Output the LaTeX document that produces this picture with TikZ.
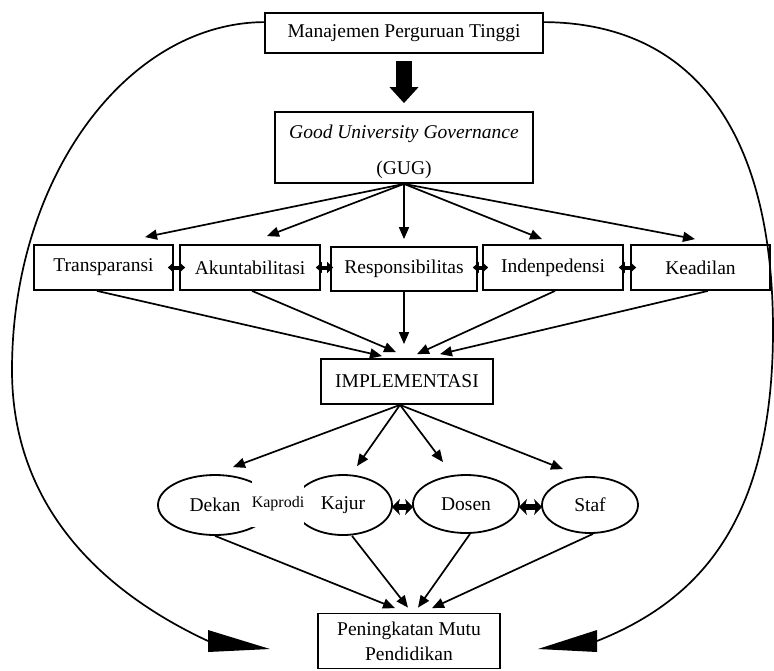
\documentclass[tikz,border=0pt]{standalone}
\usepackage{fontspec}
\setmainfont{Liberation Serif}
\usetikzlibrary{arrows.meta,calc,shapes.geometric}
\begin{document}
\begin{tikzpicture}[x=1pt,y=-1pt,
  every node/.style={font=\fontsize{19.5}{23}\selectfont},
  box/.style={draw,line width=1.8pt,inner sep=0pt,rectangle},
  ell/.style={draw,line width=1.8pt,ellipse,inner sep=0pt},
  arr/.style={line width=1.7pt,-{Triangle[length=12pt,width=10pt]}},
  dbl/.style={line width=4pt,{Triangle[length=6pt,width=11pt]}-{Triangle[length=6pt,width=11pt]}},
  dblb/.style={line width=6pt,{Stealth[length=8pt,width=16pt,inset=2pt]}-{Stealth[length=8pt,width=16pt,inset=2pt]}},
  curve/.style={line width=1.7pt}
]
\useasboundingbox (0,0) rectangle (774,670);

% boxes
\node[box,minimum width=278pt,minimum height=40pt] (top) at (404,33) {Manajemen Perguruan Tinggi};
\node[box,minimum width=258pt,minimum height=71pt,align=center] (gug) at (404,147.5) {\mbox{}\\\textit{Good University Governance}\\[13pt](GUG)};
\node[box,minimum width=139pt,minimum height=45pt] (t1) at (103.5,267.5) {Transparansi};
\node[box,minimum width=140pt,minimum height=45pt] (t2) at (250,267.5) {Akuntabilitasi};
\node[box,minimum width=146pt,minimum height=44pt] (t3) at (404,269) {Responsibilitas};
\node[box,minimum width=140pt,minimum height=45pt] (t4) at (553,267.5) {Indenpedensi};
\node[box,minimum width=139pt,minimum height=45pt] (t5) at (700.5,267.5) {Keadilan};
\node[box,minimum width=172pt,minimum height=45pt] (impl) at (407,381.5) {IMPLEMENTASI};

% ellipses
\node[ell,minimum width=114pt,minimum height=60pt] (dek) at (215,505) {Dekan};
\node[ell,minimum width=98pt,minimum height=60pt] (kaj) at (343,505) {Kajur};
\node[ell,minimum width=106pt,minimum height=58pt] (dos) at (466,504) {Dosen};
\node[ell,minimum width=96pt,minimum height=56pt] (sta) at (590,505) {Staf};
\node[fill=white,inner sep=0pt,minimum width=46pt,minimum height=46pt,font=\fontsize{16}{19}\selectfont] (kap) at (278,504) {Kaprodi};

\node[box,minimum width=182pt,minimum height=55pt,align=center] (pm) at (409,641) {Peningkatan Mutu\\[2pt]Pendidikan};

% bold arrow
\draw[line width=16pt,-{Triangle[length=16pt,width=28pt]}] ($(top.south)+(0,7)$) -- ($(gug.north)+(0,-8)$);

% fan from GUG
\draw[arr] (gug.south) -- ($(t1.north)+(41.5,-7)$);
\draw[arr] (gug.south) -- ($(t2.north)+(17,-8)$);
\draw[arr] (gug.south) -- ($(t3.north)+(0,-7)$);
\draw[arr] (gug.south) -- ($(t4.north)+(-11,-5)$);
\draw[arr] (gug.south) -- ($(t5.north)+(-5.5,-5)$);

% double arrows between boxes
\draw[dbl,shorten <=-6pt,shorten >=-6pt] (t1.east) -- (t2.west);
\draw[dbl,shorten <=-5pt,shorten >=-3pt] (t2.east) -- (t2.east -| t3.west);
\draw[dbl,shorten <=-5pt,shorten >=-6pt] (t4.west -| t3.east) -- (t4.west);
\draw[dbl,shorten <=-5pt,shorten >=-6pt] (t4.east) -- (t5.west);

% boxes to implementasi
\draw[arr] ($(t1.south)+(-6.5,0)$) -- ($(impl.north)+(-25,-2)$);
\draw[arr] ($(t2.south)+(2,0)$) -- ($(impl.north)+(-11,-6)$);
\draw[arr] (t3.south) -- ($(t3.south |- impl.north)+(0,-14)$);
\draw[arr] ($(t4.south)+(2,0)$) -- ($(impl.north)+(10,-4)$);
\draw[arr] ($(t5.south)+(7.5,0)$) -- ($(impl.north)+(33,-4)$);

% fan from implementasi
\coordinate (io) at ($(impl.south)+(-7,0)$);
\draw[arr] (io) -- ($(dek.north)+(18,-7)$);
\draw[arr] (io) -- ($(kaj.north)+(14,-8)$);
\draw[arr] (io) -- ($(dos.north)+(-23,-12)$);
\draw[arr] (io) -- ($(sta.north)+(-27,-7)$);

% double arrows between ellipses
\draw[dblb,shorten <=-1pt,shorten >=-1pt] ($(kaj.east)+(0,2)$) -- ($(dos.west)+(0,3)$);
\draw[dblb,shorten <=-1pt,shorten >=-1pt] ($(dos.east)+(0,3)$) -- ($(sta.west)+(0,2)$);

% ellipses to peningkatan
\draw[arr] (dek.south) -- ($(pm.north)+(-14,-4.5)$);
\draw[arr] ($(kaj.south)+(9,0)$) -- ($(pm.north)+(-1,-5)$);
\draw[arr] ($(dos.south)+(4,0)$) -- ($(pm.north)+(9,-5)$);
\draw[arr] ($(sta.south)+(3,0)$) -- ($(pm.north)+(23,-4.5)$);

% big side curves
\coordinate (ls) at ($(top.north west)+(0,10)$);
\coordinate (le) at (208,641);
\draw[curve] (ls) .. controls (126,23) and (12,179) .. (12,370) .. controls (12,520) and (120,600) .. (le);
\fill (208,630) -- (208,652) -- (270,649) -- cycle;

\coordinate (rs) at ($(top.north east)+(0,10)$);
\coordinate (re) at (597,641);
\draw[curve] (rs) .. controls (693,23) and (773,131) .. (773,330) .. controls (773,520) and (700,600) .. (re);
\fill (597,630) -- (597,652) -- (538,649) -- cycle;
\end{tikzpicture}
\end{document}
